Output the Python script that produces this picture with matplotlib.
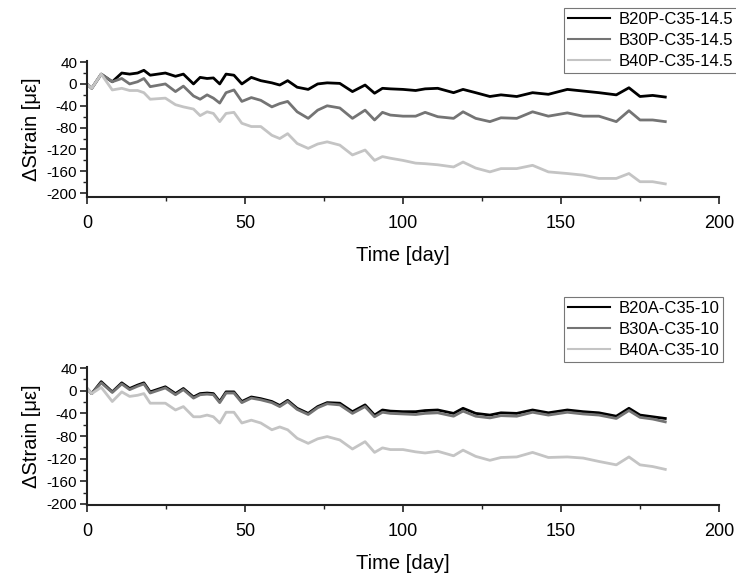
import matplotlib.pyplot as plt
from matplotlib.ticker import MultipleLocator

plt.rcParams['font.family'] = ['Liberation Sans', 'DejaVu Sans']
plt.rcParams['axes.unicode_minus'] = False

days = [0, 1.5, 4.5, 8, 11, 13.5, 16, 18, 20, 24.8, 28, 30.5, 33.7, 35.8, 38, 40, 42, 44,
        46.5, 49, 52, 55, 58.5, 61, 63.5, 66.5, 70, 73, 76, 80, 84, 88, 91, 93.5, 96, 100,
        104, 107, 111, 116, 119, 123, 127.5, 131, 136, 141, 146, 152, 157, 162, 167.5,
        171.5, 175, 179, 183]

# top panel (P series)
b20p = [0, -8, 18, 4, 20, 18, 20, 25, 16, 20, 14, 18, 0, 12, 10, 11, 0, 18,
        16, 0, 12, 6, 2, -2, 6, -6, -10, 0, 2, 1, -14, -2, -17, -8, -9, -10,
        -12, -9, -8, -16, -10, -16, -23, -20, -23, -16, -19, -10, -13, -16, -20,
        -7, -23, -21, -24]
b30p = [0, -8, 18, 4, 10, 0, 4, 10, -5, 0, -14, -4, -22, -28, -20, -26, -35, -16,
        -11, -32, -25, -30, -42, -36, -32, -51, -63, -48, -40, -44, -63, -48, -66, -52, -57, -59,
        -59, -52, -60, -63, -51, -63, -69, -62, -63, -51, -59, -53, -59, -59, -69,
        -49, -66, -66, -69]
b40p = [0, -8, 18, -11, -8, -12, -12, -16, -28, -26, -38, -42, -46, -58, -51, -54, -69, -54,
        -52, -72, -78, -78, -94, -100, -91, -109, -118, -110, -106, -112, -130, -121, -140, -133, -136, -140,
        -145, -146, -148, -152, -143, -154, -161, -155, -155, -149, -161, -164, -167, -173, -173,
        -164, -179, -179, -183]

# bottom panel (A series)
b20a = [4, -5, 16, -2, 14, 4, 10, 14, -2, 7, -5, 4, -11, -5, -4, -5, -19, -2,
        -2, -19, -11, -14, -19, -26, -17, -31, -40, -28, -21, -22, -37, -25, -43, -34, -36, -37,
        -37, -35, -34, -40, -31, -40, -43, -39, -40, -34, -39, -34, -37, -39, -45,
        -31, -43, -46, -49]
b30a = [4, -5, 14, -3, 12, 2, 8, 12, -4, 5, -7, 2, -13, -7, -6, -7, -21, -4,
        -4, -21, -13, -16, -21, -28, -19, -33, -42, -30, -23, -25, -40, -28, -46, -38, -40, -41,
        -42, -40, -39, -45, -36, -45, -48, -44, -45, -38, -43, -38, -41, -43, -49,
        -35, -47, -50, -55]
b40a = [4, -5, 6, -19, -2, -10, -8, -5, -22, -22, -34, -28, -46, -46, -43, -46, -57, -38,
        -38, -57, -52, -57, -69, -64, -69, -84, -93, -85, -81, -87, -103, -90, -109, -101, -104, -104,
        -108, -110, -107, -115, -105, -116, -123, -118, -117, -109, -118, -117, -119, -125, -131,
        -117, -131, -134, -139]

labels_top = ['B20P-C35-14.5', 'B30P-C35-14.5', 'B40P-C35-14.5']
labels_bot = ['B20A-C35-10', 'B30A-C35-10', 'B40A-C35-10']
colors = ['#000000', '#747474', '#c4c4c4']

fig = plt.figure(figsize=(7.36, 5.74), dpi=100)
ax1 = fig.add_axes([87/736, 1-197/574, 632/736, 136/574])
ax2 = fig.add_axes([87/736, 1-505/574, 632/736, 138/574])


def style(ax, ylim):
    for s in ['top', 'right']:
        ax.spines[s].set_visible(False)
    for s in ['left', 'bottom']:
        ax.spines[s].set_linewidth(1.5)
        ax.spines[s].set_color('#222222')
    ax.set_xlim(0, 200)
    ax.set_ylim(*ylim)
    ax.set_yticks(range(-200, 41, 40))
    ax.xaxis.set_major_locator(MultipleLocator(50))
    ax.xaxis.set_minor_locator(MultipleLocator(25))
    ax.yaxis.set_minor_locator(MultipleLocator(20))
    ax.tick_params(axis='both', which='major', direction='out', length=5, width=1.2, color='#222222')
    ax.tick_params(axis='both', which='minor', direction='out', length=3, width=1.0, color='#222222')
    ax.tick_params(axis='x', labelsize=13, pad=8)
    ax.tick_params(axis='y', labelsize=11, pad=2)
    ax.set_xlabel('Time [day]', fontsize=14.5, labelpad=10)
    ax.set_ylabel('ΔStrain [με]', fontsize=14.5, labelpad=4)


for ax, series, labels, ylim in [(ax1, [b20p, b30p, b40p], labels_top, (-207, 42)),
                                 (ax2, [b20a, b30a, b40a], labels_bot, (-202, 42))]:
    for vals, lab, c in zip(series, labels, colors):
        ax.plot(days, vals, color=c, lw=2.0, label=lab)
    style(ax, ylim)

leg_kw = dict(loc='upper left', bbox_transform=fig.transFigure, fontsize=12, frameon=True,
              fancybox=False, borderpad=0.25, handlelength=2.5, handletextpad=0.5,
              labelspacing=0.35, borderaxespad=0)
leg1 = ax1.legend(bbox_to_anchor=(564/736, 1-8/574), **leg_kw)
leg2 = ax2.legend(bbox_to_anchor=(564/736, 1-297/574), **leg_kw)
for leg in (leg1, leg2):
    leg.get_frame().set_edgecolor('#555555')
    leg.get_frame().set_linewidth(0.8)
    for ln in leg.get_lines():
        ln.set_linewidth(1.5)

fig.savefig('out.png', dpi=100)
